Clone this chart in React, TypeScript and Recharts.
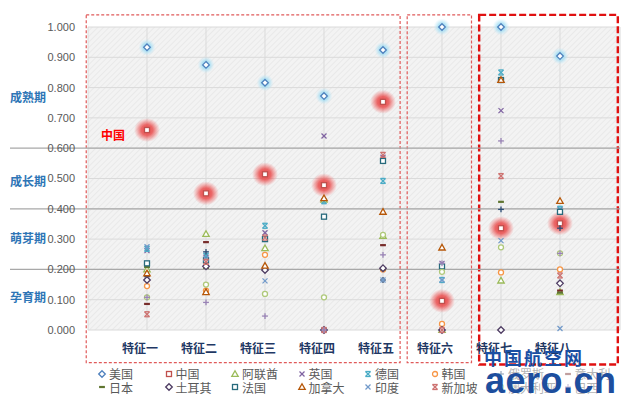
import React from 'react';
import {
  ScatterChart,
  Scatter,
  XAxis,
  YAxis,
  CartesianGrid,
  ReferenceLine,
  ReferenceArea,
  ReferenceDot,
} from 'recharts';

const features = ['特征一', '特征二', '特征三', '特征四', '特征五', '特征六', '特征七', '特征八'];
const yTicks = [0, 0.1, 0.2, 0.3, 0.4, 0.5, 0.6, 0.7, 0.8, 0.9, 1.0];
const stageTicks = [0.106, 0.3, 0.488, 0.766];
const stageNames = ['孕育期', '萌芽期', '成长期', '成熟期'];
const stageLines = [0.2, 0.4, 0.6];

const countries = ['美国', '中国', '阿联酋', '英国', '德国', '韩国', '俄罗斯', '意大利', '日本', '土耳其', '法国', '加拿大', '印度', '新加坡', '澳大利亚', '巴西'];
const colors = ['#4F81BD', '#C0504D', '#9BBB59', '#8064A2', '#4BACC6', '#F79646', '#2C4D75', '#772C2A', '#5F7530', '#4D3B62', '#276A7C', '#B65708', '#729ACA', '#CD7371', '#AFC97A', '#9983B5'];
const markers = ['diamond', 'square', 'triangle', 'x', 'star', 'circle', 'plus', 'dash', 'dash', 'diamond', 'square', 'triangle', 'x', 'star', 'circle', 'plus'];

const usa = [0.933, 0.875, 0.816, 0.772, 0.924, 1.0, 1.0, 0.904];
const china = [0.66, 0.451, 0.514, 0.478, 0.753, 0.096, 0.336, 0.352];
const uae = [0.2, 0.317, 0.27, 0.43, 0.31, 0.0, 0.163, 0.125];
const uk = [0.262, 0.24, 0.321, 0.64, 0.57, 0.22, 0.724, 0.398];
const germany = [0.268, 0.245, 0.344, 0.425, 0.492, 0.165, 0.85, 0.4];
const korea = [0.145, 0.13, 0.248, 0.0, 0.2, 0.02, 0.19, 0.2];
const russia = [0.176, 0.258, 0.2, 0.0, 0.165, 0.21, 0.398, 0.336];
const italy = [0.086, 0.29, 0.2, 0.0, 0.28, 0.0, 0.825, 0.13];
const japan = [0.208, 0.205, 0.198, 0.0, 0.2, 0.0, 0.423, 0.123];
const turkey = [0.165, 0.21, 0.198, 0.0, 0.204, 0.0, 0.0, 0.154];
const france = [0.22, 0.23, 0.3, 0.374, 0.558, 0.21, 0.825, 0.39];
const canada = [0.187, 0.125, 0.212, 0.435, 0.39, 0.272, 0.825, 0.426];
const india = [0.275, 0.235, 0.162, 0.0, 0.165, 0.165, 0.295, 0.005];
const singapore = [0.052, 0.225, 0.305, 0.0, 0.578, 0.0, 0.508, 0.18];
const australia = [0.108, 0.15, 0.119, 0.108, 0.314, 0.192, 0.273, 0.253];
const brazil = [0.108, 0.091, 0.046, 0.0, 0.248, 0.22, 0.624, 0.253];

const seriesValues = [usa, china, uae, uk, germany, korea, russia, italy, japan, turkey, france, canada, india, singapore, australia, brazil];

type MProps = { cx?: number; cy?: number; type: string; color: string; glow?: string };

const MarkerShape = ({ cx, cy, type, color, glow }: MProps) => {
  if (cx == null || cy == null) return null;
  const s = 2.9;
  let mark: React.ReactNode = null;
  const sw = 1.3;
  switch (type) {
    case 'diamond':
      mark = <polygon points={`${cx},${cy - s - 0.4} ${cx + s + 0.4},${cy} ${cx},${cy + s + 0.4} ${cx - s - 0.4},${cy}`} fill="#fff" stroke={color} strokeWidth={sw} />;
      break;
    case 'square':
      mark = <rect x={cx - s + 0.4} y={cy - s + 0.4} width={2 * s - 0.8} height={2 * s - 0.8} fill="#fff" stroke={color} strokeWidth={sw} />;
      break;
    case 'triangle':
      mark = <polygon points={`${cx},${cy - s - 0.3} ${cx + s + 0.3},${cy + s - 0.5} ${cx - s - 0.3},${cy + s - 0.5}`} fill="#fff" stroke={color} strokeWidth={sw} />;
      break;
    case 'x':
      mark = (
        <g stroke={color} strokeWidth={sw}>
          <line x1={cx - s + 0.4} y1={cy - s + 0.4} x2={cx + s - 0.4} y2={cy + s - 0.4} />
          <line x1={cx - s + 0.4} y1={cy + s - 0.4} x2={cx + s - 0.4} y2={cy - s + 0.4} />
        </g>
      );
      break;
    case 'star':
      mark = (
        <g stroke={color} strokeWidth={sw}>
          <line x1={cx - s + 0.4} y1={cy - s + 0.4} x2={cx + s - 0.4} y2={cy + s - 0.4} />
          <line x1={cx - s + 0.4} y1={cy + s - 0.4} x2={cx + s - 0.4} y2={cy - s + 0.4} />
          <line x1={cx - s + 0.4} y1={cy - s + 0.4} x2={cx + s - 0.4} y2={cy - s + 0.4} />
          <line x1={cx - s + 0.4} y1={cy + s - 0.4} x2={cx + s - 0.4} y2={cy + s - 0.4} />
        </g>
      );
      break;
    case 'circle':
      mark = <circle cx={cx} cy={cy} r={s - 0.4} fill="#fff" stroke={color} strokeWidth={sw} />;
      break;
    case 'plus':
      mark = (
        <g stroke={color} strokeWidth={sw}>
          <line x1={cx - s} y1={cy} x2={cx + s} y2={cy} />
          <line x1={cx} y1={cy - s} x2={cx} y2={cy + s} />
        </g>
      );
      break;
    case 'dash':
      mark = <rect x={cx - s} y={cy - 1.1} width={2 * s} height={2.2} fill={color} />;
      break;
    default:
      mark = null;
  }
  return (
    <g>
      {glow === 'red' && <ellipse cx={cx} cy={cy} rx={13} ry={12} fill="url(#glowRed)" />}
      {glow === 'blue' && <circle cx={cx} cy={cy} r={8.5} fill="url(#glowBlue)" />}
      {mark}
    </g>
  );
};

const seriesData = seriesValues.map((vals) => vals.map((v, i) => ({ x: i + 1, y: v })));

const legendRows = [countries.slice(0, 8), countries.slice(8, 16)];

export default function App() {
  return (
    <div style={{ position: 'absolute', left: 0, top: 0, width: 640, height: 399, background: '#fff', overflow: 'hidden' }}>
      <svg width={0} height={0} style={{ position: 'absolute' }}>
        <defs>
          <pattern id="hatch" width="4" height="4" patternUnits="userSpaceOnUse" patternTransform="rotate(45)">
            <rect width="4" height="4" fill="#f3f3f3" />
            <line x1="0" y1="0" x2="0" y2="4" stroke="#e6e6e6" strokeWidth="1.5" />
          </pattern>
          <radialGradient id="glowRed">
            <stop offset="0%" stopColor="#e83c3c" stopOpacity="0.95" />
            <stop offset="45%" stopColor="#e94545" stopOpacity="0.8" />
            <stop offset="100%" stopColor="#f06060" stopOpacity="0" />
          </radialGradient>
          <radialGradient id="glowBlue">
            <stop offset="0%" stopColor="#7fd0f0" stopOpacity="0.95" />
            <stop offset="50%" stopColor="#9cdcf4" stopOpacity="0.7" />
            <stop offset="100%" stopColor="#c0e8f8" stopOpacity="0" />
          </radialGradient>
        </defs>
      </svg>
      <ScatterChart width={640} height={399} margin={{ top: 27, right: 20, bottom: 39, left: 50 }}>
        <CartesianGrid stroke="#dadada" fill="url(#hatch)" />
        <XAxis
          type="number"
          dataKey="x"
          domain={[0, 9.017]}
          ticks={[1, 2, 3, 4, 5, 6, 7, 8]}
          interval={0}
          tickFormatter={(v: number) => features[v - 1] ?? ''}
          axisLine={false}
          tickLine={false}
          tickMargin={8}
          height={30}
          tick={{ fontSize: 12, fontWeight: 'bold', fill: '#1f3864', dx: -7, fontFamily: 'Noto Sans CJK SC' }}
        />
        <YAxis
          type="number"
          dataKey="y"
          domain={[0, 1]}
          ticks={yTicks}
          interval={0}
          width={38}
          tickFormatter={(v: number) => v.toFixed(3)}
          axisLine={false}
          tickLine={false}
          tickMargin={7}
          tick={{ fontSize: 11, fill: '#595959', fontFamily: 'Liberation Sans' }}
        />
        {stageLines.map((v) => (
          <ReferenceLine
            key={v}
            y={v}
            shape={(p: any) => (
              <line x1={p.x1 - 78} y1={p.y1} x2={p.x2} y2={p.y2} stroke="#a8a8a8" strokeWidth={1.2} />
            )}
          />
        ))}
        {stageTicks.map((v, i) => (
          <ReferenceLine
            key={'s' + v}
            y={v}
            stroke="none"
            label={{ value: stageNames[i], position: 'left', offset: 42, fill: '#2e75b6', fontSize: 12, fontWeight: 'bold', fontFamily: 'Noto Sans CJK SC' }}
          />
        ))}
        {seriesData.map((d, i) => (
          <Scatter
            key={countries[i]}
            name={countries[i]}
            data={d}
            isAnimationActive={false}
            shape={(p: any) => (
              <MarkerShape
                cx={p.cx}
                cy={p.cy}
                type={markers[i]}
                color={colors[i]}
                glow={i === 0 ? 'blue' : i === 1 ? 'red' : undefined}
              />
            )}
          />
        ))}
        <ReferenceArea x1={-0.03} x2={5.29} y1={-0.108} y2={1.04} ifOverflow="visible" fill="none" stroke="#e05a5a" strokeWidth={1.2} strokeDasharray="3 2" />
        <ReferenceArea x1={5.41} x2={6.5} y1={-0.108} y2={1.04} ifOverflow="visible" fill="none" stroke="#e05a5a" strokeWidth={1.2} strokeDasharray="3 2" />
        <ReferenceArea x1={6.63} x2={8.98} y1={-0.114} y2={1.04} ifOverflow="visible" fill="none" stroke="#e01010" strokeWidth={2.4} strokeDasharray="7 3" />
        <ReferenceDot
          x={1}
          y={0.64}
          r={0}
          ifOverflow="visible"
          label={{ value: '中国', position: 'left', offset: 22, fill: '#ff0000', fontSize: 12, fontWeight: 'bold', fontFamily: 'Noto Sans CJK SC' }}
        />
      </ScatterChart>
      <div style={{ position: 'absolute', left: 97, top: 367, fontFamily: 'Noto Sans CJK SC', fontSize: 12, color: '#595959' }}>
        {legendRows.map((row, r) => (
          <div key={r} style={{ display: 'flex', height: 13.5, alignItems: 'center' }}>
            {row.map((name, c) => {
              const idx = r * 8 + c;
              return (
                <div key={name} style={{ width: 66.5, display: 'flex', alignItems: 'center', whiteSpace: 'nowrap', opacity: c >= 6 ? 0.45 : 1 }}>
                  <svg width={10} height={10}>
                    <MarkerShape cx={5} cy={5} type={markers[idx]} color={colors[idx]} />
                  </svg>
                  <span style={{ marginLeft: 2, lineHeight: '13px' }}>{name}</span>
                </div>
              );
            })}
          </div>
        ))}
      </div>
      <div style={{ position: 'absolute', left: 484, top: 346, fontFamily: 'Noto Sans CJK SC', fontSize: 18, fontWeight: 'bold', color: '#1a4fa3', letterSpacing: 2, lineHeight: '22px' }}>
        中国航空网
      </div>
      <div style={{ position: 'absolute', left: 485, top: 364, fontFamily: 'Liberation Sans', fontSize: 36, fontWeight: 'bold', color: '#1d4e9e', lineHeight: '34px', letterSpacing: 0.5 }}>
        aero.cn
      </div>
    </div>
  );
}
